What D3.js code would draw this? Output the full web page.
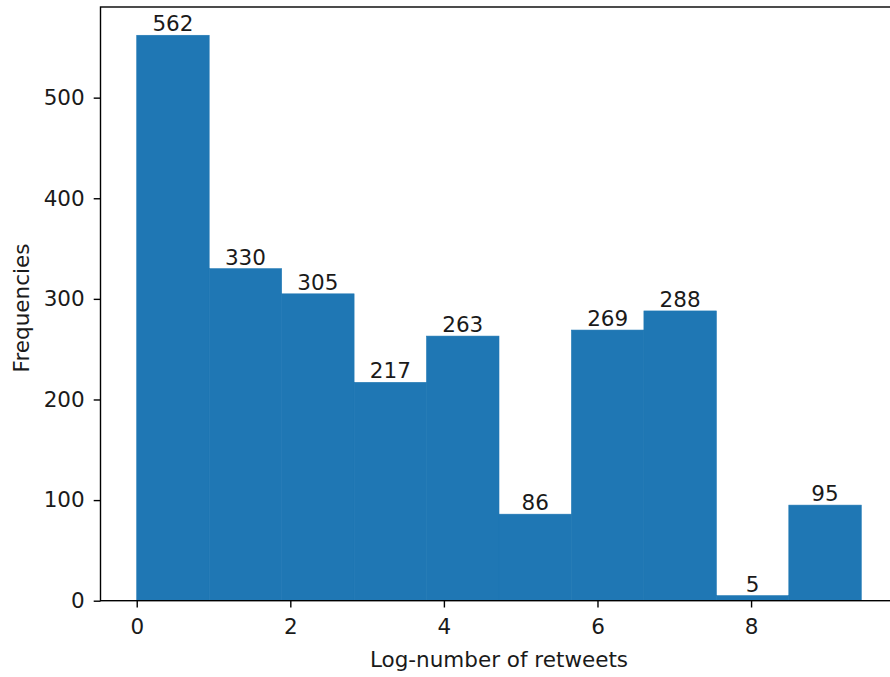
<!DOCTYPE html>
<html>
<head>
<meta charset="utf-8">
<script src="https://cdn.jsdelivr.net/npm/d3@7"></script>
<style>
  html, body { margin: 0; padding: 0; background: #fff; }
  svg { display: block; font-family: "DejaVu Sans", sans-serif; }
</style>
</head>
<body>
<svg id="chart" width="890" height="677"></svg>
<script>
// Histogram of log-number of retweets: 10 equal-width bins
const binEdges = [0, 0.9435, 1.887, 2.8305, 3.774, 4.7175, 5.661, 6.6045, 7.548, 8.4915, 9.435];
const counts = [562, 330, 305, 217, 263, 86, 269, 288, 5, 95];
const xTicks = [0, 2, 4, 6, 8];
const yTicks = [0, 100, 200, 300, 400, 500];
const xLabel = "Log-number of retweets";
const yLabel = "Frequencies";

const svg = d3.select("#chart");
const fontSize = 21.5;
const textColor = "#1a1a1a";
const barColor = "#1f77b4";

// axis limits with 5% margins, as in a default histogram
const xMin = binEdges[0], xMax = binEdges[binEdges.length - 1];
const xPad = (xMax - xMin) * 0.05;
const yTop = d3.max(counts) * 1.05;

const plotLeft = 100.5, plotRight = 897.5, plotTop = 7, plotBottom = 600.7;

const x = d3.scaleLinear().domain([xMin - xPad, xMax + xPad]).range([plotLeft, plotRight]);
const y = d3.scaleLinear().domain([0, yTop]).range([plotBottom, plotTop]);

const bins = counts.map((c, i) => ({ x0: binEdges[i], x1: binEdges[i + 1], count: c }));

// bars
svg.append("g")
  .selectAll("rect")
  .data(bins)
  .join("rect")
  .attr("x", d => x(d.x0))
  .attr("y", d => y(d.count))
  .attr("width", d => x(d.x1) - x(d.x0))
  .attr("height", d => y(0) - y(d.count))
  .attr("fill", barColor)
  .attr("stroke", barColor)
  .attr("stroke-width", 0.6);

// value labels above each bar
svg.append("g")
  .selectAll("text")
  .data(bins)
  .join("text")
  .attr("x", d => (x(d.x0) + x(d.x1)) / 2)
  .attr("y", d => y(d.count) - 4)
  .attr("text-anchor", "middle")
  .attr("font-size", fontSize)
  .attr("fill", textColor)
  .text(d => d.count);

// axes
const tickLen = 6.8;
const xAxis = d3.axisBottom(x).tickValues(xTicks).tickSize(tickLen).tickPadding(11.5).tickFormat(d3.format("d"));
const yAxis = d3.axisLeft(y).tickValues(yTicks).tickSize(tickLen).tickPadding(9).tickFormat(d3.format("d"));

const gx = svg.append("g").attr("transform", `translate(0,${plotBottom})`).call(xAxis);
const gy = svg.append("g").attr("transform", `translate(${plotLeft},0)`).call(yAxis);

[gx, gy].forEach(g => {
  g.select(".domain").remove();
  g.selectAll(".tick line").attr("stroke", "#000").attr("stroke-width", 1.4);
  g.selectAll(".tick text").attr("font-size", fontSize).attr("fill", textColor)
    .attr("font-family", "DejaVu Sans, sans-serif");
});

// frame
svg.append("rect")
  .attr("x", plotLeft).attr("y", plotTop)
  .attr("width", plotRight - plotLeft).attr("height", plotBottom - plotTop)
  .attr("fill", "none").attr("stroke", "#000").attr("stroke-width", 1.4);

// axis titles
svg.append("text")
  .attr("x", (x(xMin) + x(xMax)) / 2)
  .attr("y", 667)
  .attr("text-anchor", "middle")
  .attr("font-size", fontSize)
  .attr("fill", textColor)
  .text(xLabel);

svg.append("text")
  .attr("transform", `translate(29,308) rotate(-90)`)
  .attr("text-anchor", "middle")
  .attr("font-size", fontSize)
  .attr("fill", textColor)
  .text(yLabel);
</script>
</body>
</html>
